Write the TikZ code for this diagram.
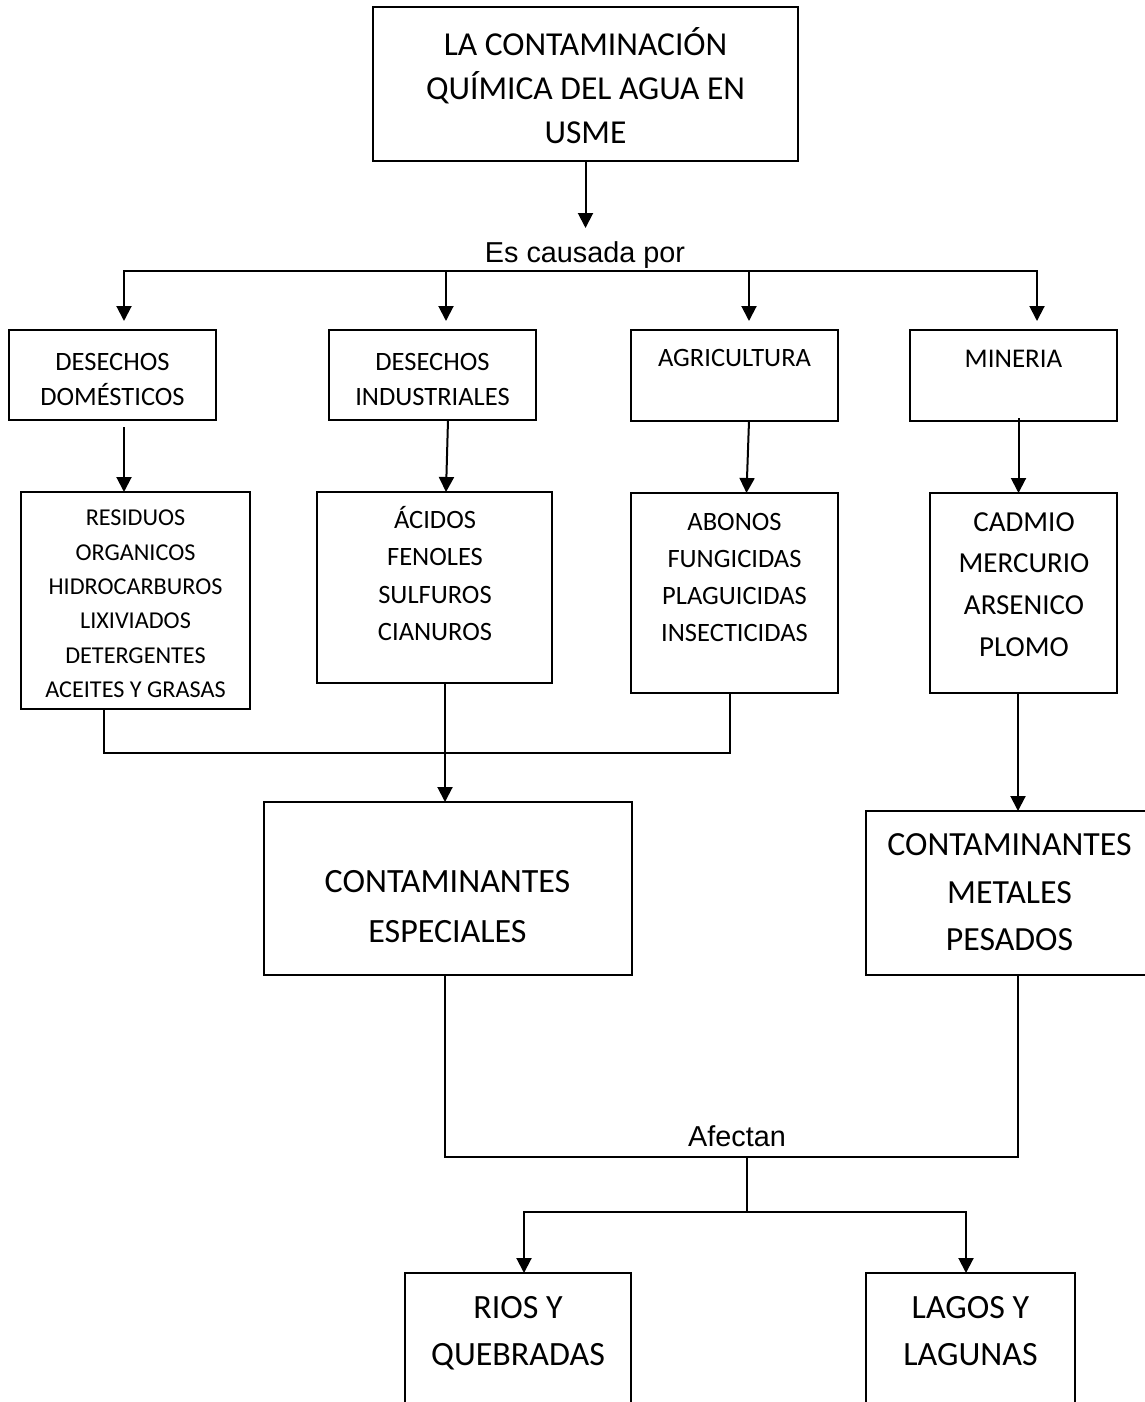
\documentclass[tikz,border=0pt]{standalone}
\usepackage{fontspec}
\setmainfont{Carlito}
\newfontfamily\arialfont{Liberation Sans}
\usetikzlibrary{arrows.meta,calc,fit}

% one centred line of text per entry: name, x, baseline of first line, line step, size, lines
\newcommand{\linesat}[6]{%
  \foreach \t [count=\i from 0] in {#6}
    \node[lbl, font=\fontsize{#5}{#5}\selectfont] (#1-\i) at (#2, {#3+#4*\i}) {\t};%
}

\begin{document}
\begin{tikzpicture}[x=0.5pt,y=-0.5pt,
  box/.style={draw, line width=0.8pt, inner sep=0pt, outer sep=0pt},
  wire/.style={line width=1pt},
  arr/.style={wire, -{Triangle[length=7.5pt,width=7.5pt]}},
  lbl/.style={inner sep=0pt, anchor=base},
  sans/.style={lbl, font=\arialfont\fontsize{14.4pt}{16pt}\selectfont},
]
\useasboundingbox (0,0) rectangle (1145,1402);
\clip (0,0) rectangle (1145,1402);
\fill[white] (0,0) rectangle (1145,1402);

% ---- boxes ----
\node[box, fit={(373,7) (798,161)}] (top) {};
\node[box, fit={(9,330) (216,420)}] (dom) {};
\node[box, fit={(329,330) (536,420)}] (ind) {};
\node[box, fit={(631,330) (838,421)}] (agr) {};
\node[box, fit={(910,330) (1117,421)}] (min) {};
\node[box, fit={(21,492) (250,709)}] (res) {};
\node[box, fit={(317,492) (552,683)}] (aci) {};
\node[box, fit={(631,493) (838,693)}] (abo) {};
\node[box, fit={(930,493) (1117,693)}] (cad) {};
\node[box, fit={(264,802) (632,975)}] (esp) {};
\node[box, fit={(866,811) (1153,975)}] (met) {};
\node[box, fit={(405,1273) (631,1450)}] (rio) {};
\node[box, fit={(866,1273) (1075,1450)}] (lag) {};

% ---- texts ----
\linesat{topT}{585.5}{55.6}{44}{16.75pt}{LA CONTAMINACIÓN,QUÍMICA DEL AGUA EN,USME}
\node[sans] (cause) at (585,262.3) {Es causada por};
\linesat{domT}{112.5}{370.4}{35}{13.25pt}{DESECHOS,DOMÉSTICOS}
\linesat{indT}{432.5}{370.4}{35}{13.25pt}{DESECHOS,INDUSTRIALES}
\linesat{agrT}{734.5}{366.4}{35}{13.25pt}{AGRICULTURA}
\linesat{minT}{1013.5}{367.5}{35}{13.5pt}{MINERIA}
\linesat{resT}{135.5}{525.7}{34.4}{12.1pt}{RESIDUOS,ORGANICOS,HIDROCARBUROS,LIXIVIADOS,DETERGENTES,ACEITES Y GRASAS}
\linesat{aciT}{435}{528.4}{37.33}{13.25pt}{ÁCIDOS,FENOLES,SULFUROS,CIANUROS}
\linesat{aboT}{734.5}{530.4}{37}{13.25pt}{ABONOS,FUNGICIDAS,PLAGUICIDAS,INSECTICIDAS}
\linesat{cadT}{1024}{531.2}{41.67}{14.5pt}{CADMIO,MERCURIO,ARSENICO,PLOMO}
\linesat{espT}{447.5}{892.7}{50}{17pt}{CONTAMINANTES,ESPECIALES}
\linesat{metT}{1009.5}{855.7}{47.5}{16.9pt}{CONTAMINANTES,METALES,PESADOS}
\node[sans] (aff) at (737,1146) {Afectan};
\linesat{rioT}{518}{1318.7}{47}{17pt}{RIOS Y,QUEBRADAS}
\linesat{lagT}{970.5}{1318.7}{47}{17pt}{LAGOS Y,LAGUNAS}

% ---- connectors ----
\coordinate (causeTip) at (586,228);
\draw[arr] (top.south) -- (top.south |- causeTip);

\coordinate (bus1) at (124,271);
\coordinate (bus2) at (446,271);
\coordinate (bus3) at (749,271);
\coordinate (bus4) at (1037,271);
\draw[arr, shorten >=4.5pt] (bus2) -- (bus1) -- (bus1 |- dom.north);
\draw[arr, shorten >=4.5pt] (bus2) -- (bus2 |- ind.north);
\draw[arr, shorten >=4.5pt] (bus2) -- (bus3) -- (bus4) -- (bus4 |- min.north);
\draw[arr, shorten >=4.5pt] (bus3) -- (bus3 |- agr.north);

\coordinate (domOut) at ($(dom.south)+(11.5,7)$);
\draw[arr] (domOut) -- (domOut |- res.north);
\draw[arr] ($(ind.south)+(15.5,0)$) -- ($(aci.north)+(11.5,0)$);
\draw[arr] ($(agr.south)+(14.5,0)$) -- ($(abo.north)+(12,0)$);
\draw[arr] ($(min.south)+(5,-3)$) -- ($(cad.north)+(-5,0)$);

% three families merge into the special pollutants
\coordinate (resOut) at ($(res.south)+(-31.5,0)$);
\coordinate (aboOut) at ($(abo.south)+(-4.5,0)$);
\coordinate (mergeY) at (0,753);
\draw[wire] (resOut) -- (resOut |- mergeY) -- (aboOut |- mergeY) -- (aboOut);
\coordinate (aciOut) at ($(aci.south)+(10.5,0)$);
\draw[arr] (aciOut) -- (aciOut |- esp.north);
\coordinate (cadOut) at ($(cad.south)+(-5.5,0)$);
\draw[arr] (cadOut) -- (cadOut |- met.north);

% both groups affect the water bodies
\coordinate (espOut) at ($(esp.south)+(-3,0)$);
\coordinate (metOut) at (cadOut |- met.south);
\coordinate (affY) at (0,1157);
\draw[wire] (espOut) -- (espOut |- affY) -- (metOut |- affY) -- (metOut);
\coordinate (affMid) at (747,1157);
\coordinate (splitY) at (0,1212);
\draw[wire] (affMid) -- (affMid |- splitY);
\coordinate (rioIn) at ($(rio.north)+(6,0)$);
\coordinate (lagIn) at ($(lag.north)+(-4.5,0)$);
\draw[arr] (affMid |- splitY) -- (rioIn |- splitY) -- (rioIn);
\draw[arr] (affMid |- splitY) -- (lagIn |- splitY) -- (lagIn);
\end{tikzpicture}
\end{document}
